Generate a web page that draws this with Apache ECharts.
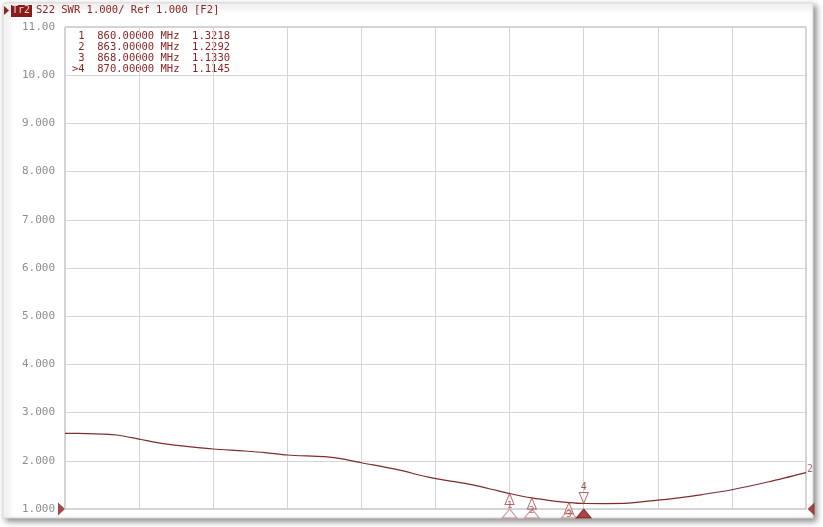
<!DOCTYPE html>
<html>
<head>
<meta charset="utf-8">
<script src="https://cdn.jsdelivr.net/npm/echarts@6/dist/echarts.min.js"></script>
<style>
    html, body { margin: 0; padding: 0; background: #fff; }
    #chart { width: 823px; height: 527px; }
</style>
</head>
<body>
<div id="chart"></div>
<script>
// trace S22 SWR
const freqs = [800, 803, 805, 807, 810, 813, 817, 820, 824, 827, 830, 835, 837, 840, 845, 849, 852, 854, 857,
    860, 863, 866, 868, 870, 873, 876, 880, 882, 886, 890, 895, 900];
const swr = [2.57, 2.565, 2.555, 2.535, 2.45, 2.36, 2.29, 2.245, 2.205, 2.17, 2.12, 2.085, 2.05, 1.96, 1.81, 1.66, 1.58, 1.53, 1.43,
    1.3218, 1.2292, 1.165, 1.133, 1.1145, 1.112, 1.12, 1.185, 1.215, 1.30, 1.40, 1.565, 1.755];

// markers
const markerIds = ['1', '2', '3', '4'];
const markerFreqs = [860, 863, 868, 870];
const markerVals = [1.3218, 1.2292, 1.1330, 1.1145];
const activeMarker = 3;

const yTicks = [1, 2, 3, 4, 5, 6, 7, 8, 9, 10, 11];
const xMin = 800, xMax = 900, xStep = 10;

const red = '#8b2424';
const mono = '"DejaVu Sans Mono", "Liberation Mono", monospace';

function fmtTick(v) {
    return v >= 10 ? v.toFixed(2) : v.toFixed(3);
}

function markerTableLines() {
    return markerIds.map((id, i) => {
        const head = (i === activeMarker ? '>' : ' ') + id;
        return head + '  ' + markerFreqs[i].toFixed(5) + ' MHz  ' + markerVals[i].toFixed(4);
    }).join('\n');
}

function initChart() {
    const chart = echarts.init(document.getElementById('chart'));
    const passive = markerIds.map((id, i) => [markerFreqs[i], markerVals[i], id]).filter((d, i) => i !== activeMarker);
    const active = [[markerFreqs[activeMarker], markerVals[activeMarker], markerIds[activeMarker]]];

    const option = {
        animation: false,
        backgroundColor: '#fff',
        grid: {
            left: 65, right: 17, top: 27, bottom: 18,
            show: true, borderColor: '#a8a8a8', borderWidth: 1
        },
        xAxis: {
            type: 'value', min: xMin, max: xMax, interval: xStep,
            axisLine: { show: false }, axisTick: { show: false }, axisLabel: { show: false },
            splitLine: { lineStyle: { color: '#d4d4d4', width: 1 } }
        },
        yAxis: {
            type: 'value', min: yTicks[0], max: yTicks[yTicks.length - 1], interval: 1,
            axisLine: { show: false }, axisTick: { show: false },
            axisLabel: {
                margin: 10,
                fontFamily: mono, fontSize: 11,
                color: v => (v === yTicks[0] ? red : '#8e8e8e'),
                formatter: v => fmtTick(v)
            },
            splitLine: { lineStyle: { color: '#d4d4d4', width: 1 } }
        },
        graphic: [
            {
                type: 'rect', z: -10, silent: true,
                shape: { x: 3, y: 3, width: 810, height: 515 },
                style: { fill: '#fff', stroke: '#d8d8d8', lineWidth: 1,
                    shadowBlur: 6, shadowColor: 'rgba(0,0,0,0.45)', shadowOffsetX: 3, shadowOffsetY: 3 }
            },
            { type: 'polygon', shape: { points: [[4, 6], [9, 10.5], [4, 15]] }, style: { fill: red } },
            { type: 'rect', shape: { x: 11, y: 5, width: 21, height: 12 }, style: { fill: '#8b1a1a' } },
            { type: 'text', x: 12, y: 5.5, style: { text: 'Tr2', fill: '#f4d0d0', font: '10px ' + mono } },
            { type: 'text', x: 36, y: 5, style: { text: 'S22 SWR 1.000/ Ref 1.000 [F2]', fill: red, font: '10.5px ' + mono } },
            { type: 'text', x: 72, y: 30.5, style: { text: markerTableLines(), fill: red, font: '10.5px ' + mono, lineHeight: 11 } }
        ],
        series: [
            {
                name: 'S22', type: 'line', showSymbol: false, smooth: 0.3,
                data: freqs.map((f, i) => [f, swr[i]]),
                lineStyle: { color: '#7f2c2c', width: 1.2 },
                endLabel: { show: true, formatter: '2', color: '#a07070', fontFamily: mono, fontSize: 10, distance: 1, offset: [0, -3] }
            },
            {
                name: 'markers', type: 'scatter', z: 4,
                data: passive,
                symbol: 'triangle', symbolSize: [9, 11], symbolOffset: [0, 5.5],
                itemStyle: { color: 'rgba(255,255,255,0.6)', borderColor: '#a04040', borderWidth: 1 },
                label: { show: true, formatter: p => p.data[2], position: 'inside', offset: [0, 7], color: '#a04040', fontFamily: mono, fontSize: 9 }
            },
            {
                name: 'active', type: 'scatter', z: 4,
                data: active,
                symbol: 'triangle', symbolRotate: 180, symbolSize: [9, 11], symbolOffset: [0, -5.5],
                itemStyle: { color: 'rgba(255,255,255,0.6)', borderColor: '#a04040', borderWidth: 1 },
                label: { show: true, formatter: p => p.data[2], position: 'top', distance: 0, color: '#8b2a2a', fontFamily: mono, fontSize: 10 }
            },
            {
                name: 'stimulus', type: 'scatter', z: 4, clip: false,
                data: markerFreqs.map((f, i) => ({
                    value: [f, yTicks[0]],
                    itemStyle: i === activeMarker
                        ? { color: '#8b1a1a', borderColor: '#8b1a1a' }
                        : { color: 'rgba(255,255,255,0)', borderColor: '#c08080' }
                })),
                symbol: 'triangle', symbolSize: [15, 9], symbolOffset: [0, 4.5],
                itemStyle: { borderWidth: 1 }
            },
            {
                name: 'refLeft', type: 'scatter', z: 5, clip: false,
                data: [[xMin, yTicks[0]]],
                symbol: 'triangle', symbolRotate: -90, symbolSize: [13, 7], symbolOffset: [-3.5, 0],
                itemStyle: { color: '#8b1a1a' }
            },
            {
                name: 'refRight', type: 'scatter', z: 5, clip: false,
                data: [[xMax, yTicks[0]]],
                symbol: 'triangle', symbolRotate: 90, symbolSize: [13, 7], symbolOffset: [5, 0],
                itemStyle: { color: '#8b1a1a' }
            }
        ]
    };
    chart.setOption(option);
}

document.addEventListener('DOMContentLoaded', initChart);
</script>
</body>
</html>
